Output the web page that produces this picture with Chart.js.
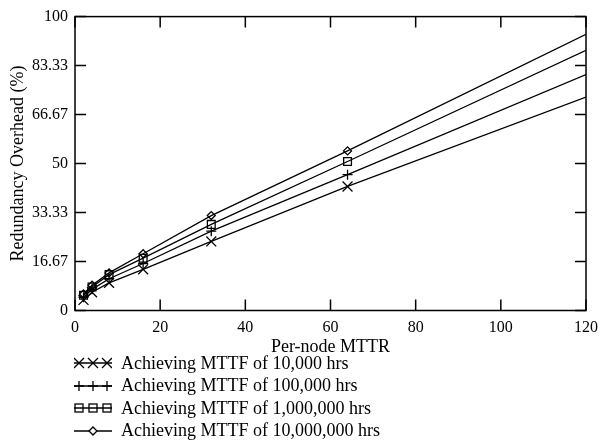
<!DOCTYPE html>
<html>
<head>
<meta charset="utf-8">
<script src="https://cdn.jsdelivr.net/npm/chart.js@4/dist/chart.umd.min.js"></script>
<style>
  html, body { margin: 0; padding: 0; background: #fff; }
  #wrap { position: relative; width: 606px; height: 440px; }
  #legend { position: absolute; left: 74px; top: 352px; font-family: "Liberation Serif", serif; font-size: 18px; color: #000; }
  .row { height: 22.5px; display: flex; align-items: center; }
  .row svg { width: 38px; height: 14px; margin-right: 9px; }
</style>
</head>
<body>
<div id="wrap">
  <canvas id="c" width="606" height="440"></canvas>
  <div id="legend"></div>
</div>
<script>
// ---- data ----
const mttrValues = [2, 4, 8, 16, 32, 64, 120];
const seriesNames = [
  "Achieving MTTF of 10,000 hrs",
  "Achieving MTTF of 100,000 hrs",
  "Achieving MTTF of 1,000,000 hrs",
  "Achieving MTTF of 10,000,000 hrs"
];
const overhead10k  = [3.6, 6.2, 9.4, 14.0, 23.5, 42.2, 72.6];
const overhead100k = [4.5, 7.2, 10.8, 16.0, 27.0, 46.2, 80.3];
const overhead1m   = [5.2, 8.0, 12.2, 17.8, 29.3, 50.7, 88.5];
const overhead10m  = [5.6, 8.6, 12.8, 19.3, 32.3, 54.3, 94.0];
const xTickValues = [0, 20, 40, 60, 80, 100, 120];
const yTickValues = [0, 16.67, 33.33, 50, 66.67, 83.33, 100];
const yTickLabels = ["0", "16.67", "33.33", "50", "66.67", "83.33", "100"];
const xTitle = "Per-node MTTR";
const yTitle = "Redundancy Overhead (%)";

const FONT = "'Liberation Serif', 'Times New Roman', serif";
const styles = [
  { pointStyle: 'crossRot', radius: 7 },
  { pointStyle: 'cross', radius: 5 },
  { pointStyle: 'rect', radius: 5.5 },
  { pointStyle: 'rectRot', radius: 4 }
];
const allSeries = [overhead10k, overhead100k, overhead1m, overhead10m];

const datasets = allSeries.map((vals, i) => ({
  label: seriesNames[i],
  data: mttrValues.map((x, j) => ({ x: x, y: vals[j] })),
  borderColor: '#000',
  backgroundColor: 'rgba(0,0,0,0)',
  borderWidth: 1.3,
  pointStyle: styles[i].pointStyle,
  pointRadius: mttrValues.map(x => x === 120 ? 0 : styles[i].radius),
  pointBorderColor: '#000',
  pointBackgroundColor: 'rgba(255,255,255,0)',
  pointBorderWidth: 1.3,
  tension: 0
}));

const frameTicks = {
  id: 'frameTicks',
  afterDatasetsDraw(chart) {
    const { ctx, chartArea: a, scales } = chart;
    const L = 11;
    ctx.save();
    ctx.strokeStyle = '#000';
    ctx.lineWidth = 1.5;
    ctx.strokeRect(a.left, a.top, a.right - a.left, a.bottom - a.top);
    ctx.beginPath();
    xTickValues.forEach(v => {
      const px = scales.x.getPixelForValue(v);
      ctx.moveTo(px, a.bottom); ctx.lineTo(px, a.bottom - L);
      ctx.moveTo(px, a.top); ctx.lineTo(px, a.top + L);
    });
    yTickValues.forEach(v => {
      const py = scales.y.getPixelForValue(v);
      ctx.moveTo(a.left, py); ctx.lineTo(a.left + L, py);
      ctx.moveTo(a.right, py); ctx.lineTo(a.right - L, py);
    });
    ctx.stroke();
    ctx.restore();
  }
};

new Chart(document.getElementById('c'), {
  type: 'line',
  data: { datasets },
  options: {
    responsive: false,
    animation: false,
    devicePixelRatio: 1,
    layout: { padding: { left: 0, top: 15, right: 15, bottom: 81.5 } },
    plugins: { legend: { display: false }, tooltip: { enabled: false } },
    scales: {
      x: {
        type: 'linear', min: 0, max: 120,
        afterBuildTicks: s => { s.ticks = xTickValues.map(v => ({ value: v })); },
        afterFit: s => { s.height = 48; },
        ticks: { color: '#000', font: { family: FONT, size: 16 }, padding: 8, maxRotation: 0 },
        grid: { display: false, drawTicks: false },
        border: { display: false },
        title: { display: true, text: xTitle, color: '#000', font: { family: FONT, size: 18 }, padding: { top: 0, bottom: 0 } }
      },
      y: {
        type: 'linear', min: 0, max: 100,
        afterBuildTicks: s => { s.ticks = yTickValues.map(v => ({ value: v })); },
        afterFit: s => { s.width = 75; },
        ticks: { color: '#000', font: { family: FONT, size: 16 }, padding: 7,
          callback: (v, i) => yTickLabels[i] },
        grid: { display: false, drawTicks: false },
        border: { display: false },
        title: { display: true, text: yTitle, color: '#000', font: { family: FONT, size: 18 }, padding: { top: 7, bottom: 0 } }
      }
    }
  },
  plugins: [frameTicks]
});

// ---- legend ----
function markerSvg(style) {
  const line = '<line x1="0" y1="7" x2="38" y2="7" stroke="#000" stroke-width="1.3"/>';
  const xs = [5, 19, 33];
  let m = '';
  if (style === 'crossRot') xs.forEach(c => { m += `<path d="M${c-5} 2 L${c+5} 12 M${c-5} 12 L${c+5} 2" stroke="#000" stroke-width="1.3" fill="none"/>`; });
  if (style === 'cross') xs.forEach(c => { m += `<path d="M${c-5} 7 L${c+5} 7 M${c} 2 L${c} 12" stroke="#000" stroke-width="1.3" fill="none"/>`; });
  if (style === 'rect') xs.forEach(c => { m += `<rect x="${c-4}" y="3" width="8" height="8" stroke="#000" stroke-width="1.3" fill="none"/>`; });
  if (style === 'rectRot') m = '<path d="M15 7 L19 3 L23 7 L19 11 Z" stroke="#000" stroke-width="1.3" fill="#fff"/>';
  return `<svg viewBox="0 0 38 14">${line}${m}</svg>`;
}
const leg = document.getElementById('legend');
seriesNames.forEach((n, i) => {
  const r = document.createElement('div');
  r.className = 'row';
  r.innerHTML = markerSvg(styles[i].pointStyle) + '<span>' + n + '</span>';
  leg.appendChild(r);
});
</script>
</body>
</html>
